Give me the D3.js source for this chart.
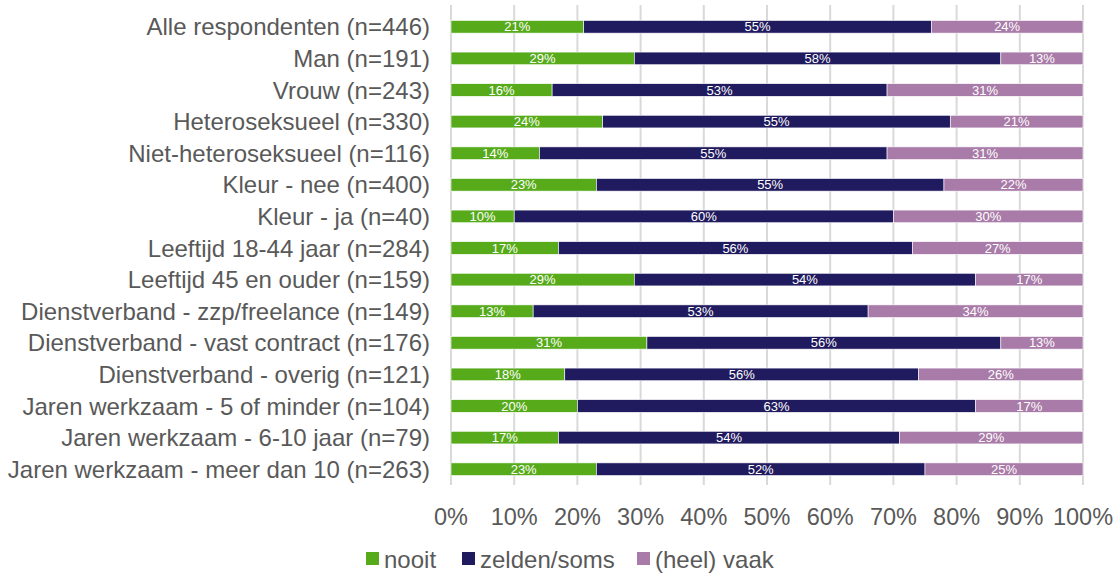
<!DOCTYPE html>
<html>
<head>
<meta charset="utf-8">
<script src="https://cdn.jsdelivr.net/npm/d3@7"></script>
<style>
    body { margin: 0; background: #fff; }
    text { font-family: "Liberation Sans", Arial, sans-serif; }
</style>
</head>
<body>
<div id="chart"></div>
<script>
// Categories and series values (percent)
const categories = [
    'Alle respondenten (n=446)',
    'Man (n=191)',
    'Vrouw (n=243)',
    'Heteroseksueel (n=330)',
    'Niet-heteroseksueel (n=116)',
    'Kleur - nee (n=400)',
    'Kleur - ja (n=40)',
    'Leeftijd 18-44 jaar (n=284)',
    'Leeftijd 45 en ouder (n=159)',
    'Dienstverband - zzp/freelance (n=149)',
    'Dienstverband - vast contract (n=176)',
    'Dienstverband - overig (n=121)',
    'Jaren werkzaam - 5 of minder (n=104)',
    'Jaren werkzaam - 6-10 jaar (n=79)',
    'Jaren werkzaam - meer dan 10 (n=263)'
];
const nooit = [21, 29, 16, 24, 14, 23, 10, 17, 29, 13, 31, 18, 20, 17, 23];
const zelden = [55, 58, 53, 55, 55, 55, 60, 56, 54, 53, 56, 56, 63, 54, 52];
const vaak = [24, 13, 31, 21, 31, 22, 30, 27, 17, 34, 13, 26, 17, 29, 25];
const seriesNames = ['nooit', 'zelden/soms', '(heel) vaak'];
const tickValues = [0, 10, 20, 30, 40, 50, 60, 70, 80, 90, 100];

const colors = ['#57ab1b', '#201a5e', '#a97ba8'];

const width = 1116, height = 574;
const margin = { top: 11, right: 33, bottom: 89, left: 451 };
const innerW = width - margin.left - margin.right;
const innerH = height - margin.top - margin.bottom;

const svg = d3.select('#chart').append('svg')
    .attr('width', width)
    .attr('height', height);

const g = svg.append('g')
    .attr('transform', `translate(${margin.left},${margin.top})`);

const x = d3.scaleLinear().domain([0, 100]).range([0, innerW]);
const y = d3.scaleBand().domain(categories).range([0, innerH]).paddingInner(0.6).paddingOuter(0.3);

// Gridlines
g.selectAll('.grid')
    .data(tickValues)
    .enter().append('line')
    .attr('class', 'grid')
    .attr('x1', d => x(d)).attr('x2', d => x(d))
    .attr('y1', -6).attr('y2', innerH)
    .attr('stroke', '#d9d9d9')
    .attr('stroke-width', 2);

// Stack the data
const rows = categories.map((c, i) => ({ cat: c, nooit: nooit[i], zelden: zelden[i], vaak: vaak[i] }));
const stack = d3.stack().keys(['nooit', 'zelden', 'vaak']);
const layers = stack(rows);

const layer = g.selectAll('.layer')
    .data(layers)
    .enter().append('g')
    .attr('class', 'layer')
    .attr('fill', (d, i) => colors[i]);

layer.selectAll('rect')
    .data(d => d)
    .enter().append('rect')
    .attr('x', d => x(d[0]))
    .attr('y', d => y(d.data.cat))
    .attr('width', d => x(d[1]) - x(d[0]))
    .attr('height', y.bandwidth())
    .attr('stroke', '#ffffff')
    .attr('stroke-width', 0.6);

layer.selectAll('.value-label')
    .data(d => d)
    .enter().append('text')
    .attr('class', 'value-label')
    .attr('x', d => (x(d[0]) + x(d[1])) / 2)
    .attr('y', d => y(d.data.cat) + y.bandwidth() / 2)
    .attr('dy', '0.36em')
    .attr('text-anchor', 'middle')
    .attr('fill', '#ffffff')
    .style('font-size', '13px')
    .text(d => (d[1] - d[0]) + '%');

// Y axis labels
g.selectAll('.cat-label')
    .data(categories)
    .enter().append('text')
    .attr('class', 'cat-label')
    .attr('x', -21)
    .attr('y', d => y(d) + y.bandwidth() / 2)
    .attr('dy', '0.36em')
    .attr('text-anchor', 'end')
    .attr('fill', '#595959')
    .style('font-size', '24px')
    .text(d => d);

// X axis tick labels
g.selectAll('.tick-label')
    .data(tickValues)
    .enter().append('text')
    .attr('class', 'tick-label')
    .attr('x', d => x(d))
    .attr('y', innerH + 40)
    .attr('text-anchor', 'middle')
    .attr('fill', '#595959')
    .style('font-size', '23.5px')
    .text(d => d + '%');

// Legend
const legendX = [366, 462, 637];
const legend = svg.selectAll('.legend')
    .data(seriesNames)
    .enter().append('g')
    .attr('class', 'legend')
    .attr('transform', (d, i) => `translate(${legendX[i]}, 552)`);

legend.append('rect')
    .attr('width', 13)
    .attr('height', 13)
    .attr('fill', (d, i) => colors[i]);

legend.append('text')
    .attr('x', 18)
    .attr('y', 7)
    .attr('dy', '0.36em')
    .attr('fill', '#595959')
    .style('font-size', '24px')
    .text(d => d);
</script>
</body>
</html>
